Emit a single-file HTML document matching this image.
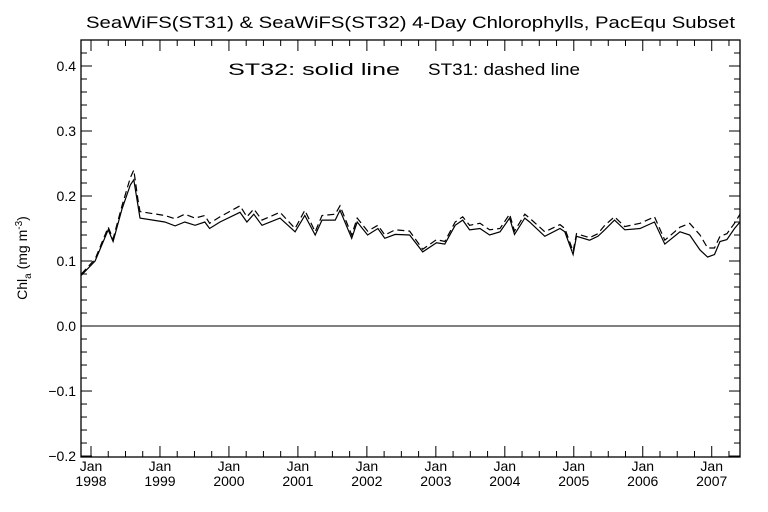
<!DOCTYPE html>
<html><head><meta charset="utf-8"><style>
body{margin:0;background:#fff}
svg{display:block;font-family:"Liberation Sans",sans-serif}
</style></head><body>
<svg id="chart" width="768" height="512" viewBox="0 0 768 512">
<rect width="768" height="512" fill="#fff"/>
<text x="86" y="28" font-size="17" textLength="649" lengthAdjust="spacingAndGlyphs">SeaWiFS(ST31) &amp; SeaWiFS(ST32) 4-Day Chlorophylls, PacEqu Subset</text>
<text x="228" y="75" font-size="17" textLength="172" lengthAdjust="spacingAndGlyphs">ST32: solid line</text>
<text x="428" y="75" font-size="17" textLength="152" lengthAdjust="spacingAndGlyphs">ST31: dashed line</text>
<text transform="translate(27,258) rotate(-90)" text-anchor="middle" font-size="14">Chl<tspan font-size="10" dy="4">a</tspan><tspan dy="-4"> (mg m</tspan><tspan font-size="10" dy="-5">-3</tspan><tspan dy="5">)</tspan></text>
<g id="axes"></g>
<g id="series"></g>
</svg>
<script>
const years=[1997.86,1998.06,1998.25,1998.32,1998.45,1998.57,1998.62,1998.68,1998.71,1999.07,1999.22,1999.36,1999.51,1999.65,1999.72,1999.87,2000.16,2000.26,2000.36,2000.48,2000.74,2000.96,2001.10,2001.25,2001.35,2001.54,2001.61,2001.78,2001.86,2002.01,2002.16,2002.26,2002.41,2002.62,2002.81,2003.01,2003.13,2003.28,2003.39,2003.49,2003.64,2003.78,2003.93,2004.07,2004.14,2004.29,2004.36,2004.58,2004.80,2004.87,2004.99,2005.04,2005.23,2005.35,2005.45,2005.59,2005.74,2005.96,2006.17,2006.32,2006.54,2006.68,2006.83,2006.94,2007.04,2007.12,2007.22,2007.33,2007.41];
const st32=[0.078,0.100,0.148,0.130,0.180,0.217,0.225,0.186,0.166,0.160,0.154,0.160,0.155,0.160,0.150,0.160,0.175,0.160,0.172,0.155,0.166,0.145,0.170,0.140,0.163,0.163,0.178,0.135,0.160,0.140,0.150,0.135,0.141,0.140,0.114,0.128,0.126,0.155,0.163,0.148,0.150,0.140,0.145,0.166,0.141,0.166,0.160,0.138,0.150,0.145,0.110,0.138,0.132,0.138,0.148,0.163,0.148,0.150,0.160,0.126,0.145,0.140,0.117,0.106,0.110,0.130,0.133,0.150,0.160];
const st31=[0.080,0.103,0.152,0.134,0.185,0.228,0.240,0.195,0.176,0.170,0.165,0.172,0.166,0.170,0.158,0.168,0.185,0.168,0.180,0.163,0.175,0.150,0.178,0.145,0.170,0.172,0.185,0.140,0.166,0.146,0.155,0.140,0.148,0.146,0.118,0.133,0.130,0.160,0.168,0.155,0.158,0.148,0.150,0.172,0.146,0.172,0.166,0.145,0.156,0.150,0.115,0.142,0.136,0.142,0.155,0.168,0.153,0.158,0.168,0.132,0.152,0.158,0.140,0.120,0.120,0.138,0.142,0.158,0.172];
const yTicks=[-0.2,-0.1,0.0,0.1,0.2,0.3,0.4];
const yTickLabels=["\u22120.2","\u22120.1","0.0","0.1","0.2","0.3","0.4"];
const xYears=[1998,1999,2000,2001,2002,2003,2004,2005,2006,2007];

const L=81,R=740,T=40,B=457;
const X0=1997.855,X1=2007.41,Y0=-0.2015,Y1=0.44;
const sx=v=>L+(v-X0)/(X1-X0)*(R-L);
const sy=v=>B-(v-Y0)/(Y1-Y0)*(B-T);
const NS="http://www.w3.org/2000/svg";
const ax=document.getElementById('axes'),sg=document.getElementById('series');
function mk(tag,attrs,parent){const e=document.createElementNS(NS,tag);for(const k in attrs)e.setAttribute(k,attrs[k]);parent.appendChild(e);return e;}
const frame=mk('rect',{x:L,y:T,width:R-L,height:B-T,fill:'none',stroke:'#000','stroke-width':1.3},ax);


const zl=mk('line',{x1:L,x2:R,y1:sy(0),y2:sy(0),stroke:'#000','stroke-width':1},ax);


for(let v=-0.2;v<=0.44;v+=0.02){const y=sy(v);const major=Math.abs(Math.round(v*10)-v*10)<1e-6;const len=major?11:6;
 const t1=mk('line',{x1:L,x2:L+len,y1:y,y2:y,stroke:'#000'},ax);
 
 
 const t2=mk('line',{x1:R,x2:R-len,y1:y,y2:y,stroke:'#000'},ax);
 
 }
yTicks.forEach((v,i)=>{const t=mk('text',{x:L-5,y:sy(v)+5,'text-anchor':'end','font-size':14},ax);t.textContent=yTickLabels[i];
 
 });
for(let q=1997.75;q<=X1;q+=0.25){if(q<X0)continue;const x=sx(q);const major=Math.abs(q-Math.round(q))<1e-6;const len=major?11:6;
 const t1=mk('line',{x1:x,x2:x,y1:B,y2:B-len,stroke:'#000'},ax);
 
 
 const t2=mk('line',{x1:x,x2:x,y1:T,y2:T+len,stroke:'#000'},ax);
 
 }
xYears.forEach(yr=>{const x=Math.max(sx(yr),L+4);
 const a=mk('text',{x:x,y:B+14,'text-anchor':'middle','font-size':14},ax);a.textContent='Jan';
 
 
 const b=mk('text',{x:x,y:B+29,'text-anchor':'middle','font-size':14},ax);b.textContent=String(yr);
 
 });
function line(vals,dash,name){const d=years.map((y,i)=>(i?'L':'M')+sx(y).toFixed(1)+','+sy(vals[i]).toFixed(1)).join('');
 const p=mk('path',{d:d,fill:'none',stroke:'#000','stroke-width':1.2},sg);if(dash)p.setAttribute('stroke-dasharray','7,4');
 
 }
line(st31,true,'st31-dashed-line');
line(st32,false,'st32-solid-line');
</script>
</body></html>
